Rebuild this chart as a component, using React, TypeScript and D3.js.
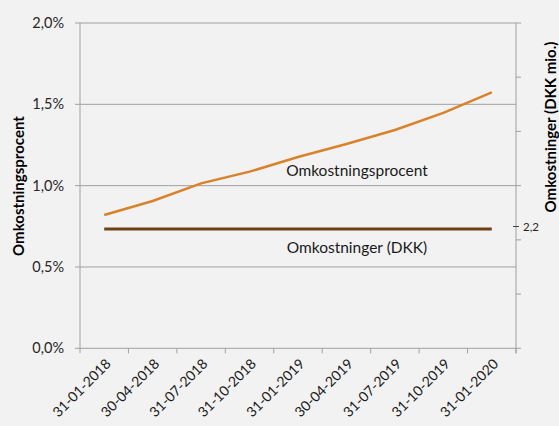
import React from "react";
import * as d3 from "d3";

const categories = ["31-01-2018","30-04-2018","31-07-2018","31-10-2018","31-01-2019","30-04-2019","31-07-2019","31-10-2019","31-01-2020"];
const omkProcent = [0.82, 0.906, 1.014, 1.086, 1.176, 1.256, 1.342, 1.447, 1.574];
const omkDKK = [2.2, 2.2, 2.2, 2.2, 2.2, 2.2, 2.2, 2.2, 2.2];
const leftTicks = [0, 0.5, 1.0, 1.5, 2.0];
const rightTicks = [0, 1, 2, 3, 4, 5, 6];

const W = 559, H = 426;
const L = 80, R = 516, T = 23, B = 348.3;
const FONT = "Lato, 'Open Sans', sans-serif";

export default function App() {
  const x = d3.scaleBand().domain(categories).range([L, R]);
  const yL = d3.scaleLinear().domain([0, 2]).range([B, T]);
  const yR = d3.scaleLinear().domain([0, 6]).range([B, T]);
  const cx = (c: string) => (x(c) as number) + x.bandwidth() / 2;
  const lineL = d3.line<number>().x((_, i) => cx(categories[i])).y(d => yL(d));
  const lineR = d3.line<number>().x((_, i) => cx(categories[i])).y(d => yR(d));
  const fmt = (v: number) => v.toFixed(1).replace(".", ",") + "%";
  const boundaries = categories.map(c => x(c) as number).concat([R]);
  const lastDKK = omkDKK[omkDKK.length - 1];
  return (
    <svg width={W} height={H} style={{ position: "absolute", left: 0, top: 0, background: "#f2f2f2" }} fontFamily={FONT}>
      <rect x={0} y={0} width={W} height={H} fill="#f2f2f2" />
      {leftTicks.map(t => (
        <g key={t}>
          <line x1={L - 5} x2={R} y1={yL(t)} y2={yL(t)} stroke="#a0a0a0" strokeWidth={1} />
          <text x={64} y={yL(t)} dy="0.35em" textAnchor="end" fontSize={14.5} fill="#262626">{fmt(t)}</text>
        </g>
      ))}
      <line x1={L} x2={L} y1={T} y2={B} stroke="#a0a0a0" />
      <line x1={R} x2={R} y1={T} y2={B + 5} stroke="#a0a0a0" />
      {rightTicks.map(t => (
        <line key={t} x1={R} x2={R + 5} y1={yR(t)} y2={yR(t)} stroke="#a0a0a0" />
      ))}
      {boundaries.map((b, i) => (
        <line key={i} x1={b} x2={b} y1={B} y2={B + 5} stroke="#a0a0a0" />
      ))}
      {categories.map(c => (
        <text key={c} transform={`translate(${cx(c) + 4},${B + 13}) rotate(-45)`} textAnchor="end" dy="0.35em" fontSize={14} fill="#1a1a1a">{c}</text>
      ))}
      <path d={lineR(omkDKK) || ""} fill="none" stroke="#6b4115" strokeWidth={3} />
      <path d={lineL(omkProcent) || ""} fill="none" stroke="#d9822b" strokeWidth={2.5} />
      <line x1={R - 3} x2={R + 3} y1={yR(lastDKK) - 2.5} y2={yR(lastDKK) - 2.5} stroke="#404040" />
      <text x={R + 7} y={yR(lastDKK) - 2.5} dy="0.35em" fontSize={11.5} fill="#262626">{lastDKK.toFixed(1).replace(".", ",")}</text>
      <text x={357} y={171} dy="0.35em" textAnchor="middle" fontSize={15.5} fill="#1a1a1a">Omkostningsprocent</text>
      <text x={357} y={248} dy="0.35em" textAnchor="middle" fontSize={15.5} fill="#1a1a1a">Omkostninger (DKK)</text>
      <text transform={`translate(19,186) rotate(-90)`} textAnchor="middle" dy="0.35em" fontSize={15} fontWeight="bold" fill="#000">Omkostningsprocent</text>
      <text transform={`translate(551,127) rotate(-90)`} textAnchor="middle" dy="0.35em" fontSize={15} fontWeight="bold" fill="#000">Omkostninger (DKK mio.)</text>
    </svg>
  );
}
